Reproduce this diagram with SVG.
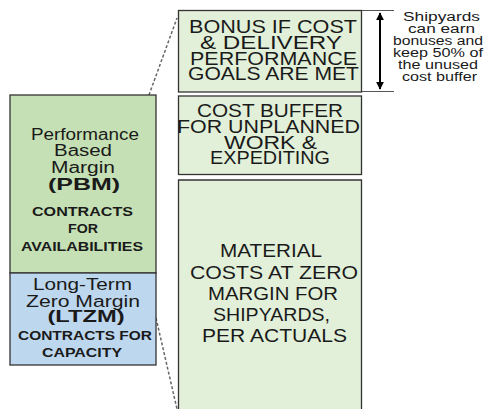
<svg xmlns="http://www.w3.org/2000/svg" width="487" height="409" viewBox="0 0 487 409">
<style>
  .t { font-family: "Liberation Sans", Arial, sans-serif; fill: #1a1a1a; text-anchor: middle; }
  .r { font-size: 18px; }
  .m { font-size: 18px; }
  .l { font-size: 16px; }
  .bb { font-size: 17px; font-weight: bold; }
  .bs { font-size: 13.5px; font-weight: bold; }
  .a { font-size: 12px; }
  .box { stroke: #333; stroke-width: 1.3; }
  .dash { stroke: #666; stroke-width: 1.5; stroke-dasharray: 3 2; fill: none; }
  .thin { stroke: #555; stroke-width: 1; }
</style>
<defs>
  <marker id="ah" viewBox="0 0 10 10" refX="9" refY="5" markerWidth="4" markerHeight="4.5" orient="auto-start-reverse" markerUnits="strokeWidth">
    <path d="M0,0 L10,5 L0,10 Z" fill="#000"/>
  </marker>
</defs>
<rect width="487" height="409" fill="#fff"/>

<g id="connectors">
  <line class="dash" x1="149" y1="95" x2="177" y2="18"/>
  <line class="dash" x1="156" y1="318" x2="177" y2="409"/>
  <line class="thin" x1="362" y1="10.5" x2="394" y2="10.5"/>
  <line class="thin" x1="362" y1="91.5" x2="394" y2="91.5"/>
  <line x1="380" y1="13" x2="380" y2="89" stroke="#000" stroke-width="2" marker-start="url(#ah)" marker-end="url(#ah)"/>
</g>

<g id="pbm">
  <rect class="box" x="10" y="95" width="146" height="178" fill="#c5e0b4"/>
  <text class="t l" x="85" y="140" textLength="108" lengthAdjust="spacingAndGlyphs">Performance</text>
  <text class="t l" x="83" y="156" textLength="58" lengthAdjust="spacingAndGlyphs">Based</text>
  <text class="t l" x="83" y="172.5" textLength="64" lengthAdjust="spacingAndGlyphs">Margin</text>
  <text class="t bb" x="84" y="190" textLength="72" lengthAdjust="spacingAndGlyphs">(PBM)</text>
  <text class="t bs" x="82.5" y="216" textLength="101" lengthAdjust="spacingAndGlyphs">CONTRACTS</text>
  <text class="t bs" x="83" y="233" textLength="30" lengthAdjust="spacingAndGlyphs">FOR</text>
  <text class="t bs" x="82" y="251" textLength="122" lengthAdjust="spacingAndGlyphs">AVAILABILITIES</text>
</g>

<g id="ltzm">
  <rect class="box" x="10" y="273" width="146" height="92" fill="#bdd7ee"/>
  <text class="t l" x="82.5" y="290" textLength="99" lengthAdjust="spacingAndGlyphs">Long-Term</text>
  <text class="t l" x="83" y="306.5" textLength="114" lengthAdjust="spacingAndGlyphs">Zero Margin</text>
  <text class="t bb" x="86" y="322" textLength="77" lengthAdjust="spacingAndGlyphs">(LTZM)</text>
  <text class="t bs" x="85" y="340" textLength="134" lengthAdjust="spacingAndGlyphs">CONTRACTS FOR</text>
  <text class="t bs" x="82" y="357" textLength="80" lengthAdjust="spacingAndGlyphs">CAPACITY</text>
</g>

<g id="bonus">
  <rect class="box" x="178.5" y="10.5" width="183" height="81.5" fill="#e2f0d9"/>
  <text class="t r" x="273" y="33" textLength="168" lengthAdjust="spacingAndGlyphs">BONUS IF COST</text>
  <text class="t r" x="271" y="48.5" textLength="142" lengthAdjust="spacingAndGlyphs">&amp; DELIVERY</text>
  <text class="t r" x="273.5" y="64.5" textLength="167" lengthAdjust="spacingAndGlyphs">PERFORMANCE</text>
  <text class="t r" x="273.5" y="80" textLength="171" lengthAdjust="spacingAndGlyphs">GOALS ARE MET</text>
</g>

<g id="buffer">
  <rect class="box" x="178.5" y="96" width="183" height="78.5" fill="#e2f0d9"/>
  <text class="t r" x="270" y="117" textLength="146" lengthAdjust="spacingAndGlyphs">COST BUFFER</text>
  <text class="t r" x="268.5" y="133" textLength="183" lengthAdjust="spacingAndGlyphs">FOR UNPLANNED</text>
  <text class="t r" x="270.5" y="148.5" textLength="93" lengthAdjust="spacingAndGlyphs">WORK &amp;</text>
  <text class="t r" x="270" y="164" textLength="120" lengthAdjust="spacingAndGlyphs">EXPEDITING</text>
</g>

<g id="material">
  <path class="box" d="M178.5,420 V180 H361.5 V420" fill="#e2f0d9"/>
  <text class="t m" x="271" y="257" textLength="102" lengthAdjust="spacingAndGlyphs">MATERIAL</text>
  <text class="t m" x="274" y="278.5" textLength="168" lengthAdjust="spacingAndGlyphs">COSTS AT ZERO</text>
  <text class="t m" x="273" y="300" textLength="130" lengthAdjust="spacingAndGlyphs">MARGIN FOR</text>
  <text class="t m" x="271.5" y="321" textLength="117" lengthAdjust="spacingAndGlyphs">SHIPYARDS,</text>
  <text class="t m" x="274.5" y="342" textLength="145" lengthAdjust="spacingAndGlyphs">PER ACTUALS</text>
</g>

<g id="note">
  <text class="t a" x="441.5" y="21" textLength="77" lengthAdjust="spacingAndGlyphs">Shipyards</text>
  <text class="t a" x="441.5" y="33" textLength="67" lengthAdjust="spacingAndGlyphs">can earn</text>
  <text class="t a" x="438" y="45" textLength="90" lengthAdjust="spacingAndGlyphs">bonuses and</text>
  <text class="t a" x="438" y="57" textLength="90" lengthAdjust="spacingAndGlyphs">keep 50% of</text>
  <text class="t a" x="438" y="69" textLength="80" lengthAdjust="spacingAndGlyphs">the unused</text>
  <text class="t a" x="439.5" y="81" textLength="75" lengthAdjust="spacingAndGlyphs">cost buffer</text>
</g>
</svg>
